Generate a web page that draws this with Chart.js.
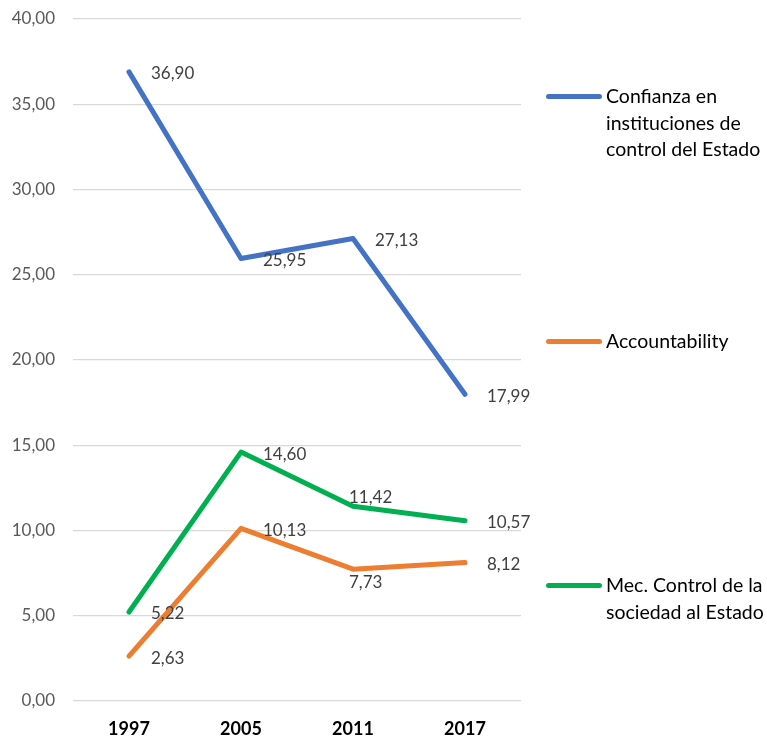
<!DOCTYPE html>
<html>
<head>
<meta charset="utf-8">
<script src="https://cdn.jsdelivr.net/npm/chart.js@4.4.1/dist/chart.umd.min.js"></script>
<style>
  html, body { margin: 0; padding: 0; background: #fff; }
  #wrap { position: relative; width: 767px; height: 740px; }
  #leyenda { position: absolute; left: 0; top: 0; font-family: Lato, sans-serif; font-size: 19.5px; color: #000; }
  .item { position: absolute; left: 546px; width: 221px; }
  .item .linea { position: absolute; left: 0; width: 56px; height: 5px; border-radius: 3px; }
  .item .texto { position: absolute; left: 60px; line-height: 26.5px; white-space: nowrap; }
</style>
</head>
<body>
<div id="wrap">
  <canvas id="grafico" width="767" height="740"></canvas>
  <div id="leyenda"></div>
</div>
<script>
const anos = ["1997", "2005", "2011", "2017"];
const confianza = [36.90, 25.95, 27.13, 17.99];
const accountability = [2.63, 10.13, 7.73, 8.12];
const mecControl = [5.22, 14.60, 11.42, 10.57];
const nomes = [
  ["Confianza en", "instituciones de", "control del Estado"],
  ["Accountability"],
  ["Mec. Control de la", "sociedad al Estado"]
];
const cores = ['#4472C4', '#ED7D31', '#00B050'];
// onde fica o rótulo de cada ponto: r = direita, a = acima, b = abaixo
const posRotulos = [
  ['r', 'r', 'r', 'r'],
  ['r', 'r', 'b', 'r'],
  ['r', 'r', 'a', 'r']
];
// topo de cada item da legenda (px)
const topoLegenda = [83, 328, 572];

function fmt(v) {
  return v.toFixed(2).replace('.', ',');
}

const rotulos = {
  id: 'rotulos',
  afterDatasetsDraw(chart) {
    const ctx = chart.ctx;
    ctx.save();
    ctx.font = '17px Lato, sans-serif';
    ctx.fillStyle = '#404040';
    ctx.textBaseline = 'middle';
    ctx.textAlign = 'left';
    chart.data.datasets.forEach(function (ds, i) {
      const meta = chart.getDatasetMeta(i);
      meta.data.forEach(function (el, j) {
        const p = posRotulos[i][j];
        let x = el.x + 22, y = el.y + 2;
        if (p === 'a') { x = el.x - 4; y = el.y - 9; }
        if (p === 'b') { x = el.x - 4; y = el.y + 13; }
        ctx.fillText(fmt(ds.data[j]), x, y);
      });
    });
    ctx.restore();
  }
};

const series = [confianza, accountability, mecControl];

new Chart(document.getElementById('grafico'), {
  type: 'line',
  data: {
    labels: anos,
    datasets: series.map(function (s, i) {
      return {
        label: nomes[i].join(' '),
        data: s,
        borderColor: cores[i],
        backgroundColor: cores[i],
        borderWidth: 5,
        borderCapStyle: 'round',
        borderJoinStyle: 'round',
        pointRadius: 0,
        tension: 0
      };
    })
  },
  options: {
    responsive: false,
    animation: false,
    layout: { padding: { top: 19, right: 246, bottom: 0, left: 0 } },
    plugins: {
      legend: { display: false },
      tooltip: { enabled: false }
    },
    scales: {
      x: {
        offset: true,
        grid: { display: false },
        border: { display: false },
        ticks: {
          color: '#000',
          font: { family: 'Lato, sans-serif', size: 18, weight: 'bold' },
          padding: 9
        },
        afterFit(axis) { axis.height = 39; }
      },
      y: {
        min: 0,
        max: 40,
        border: { display: false },
        grid: { color: '#D9D9D9', lineWidth: 1.3, drawTicks: true, tickLength: 18, tickColor: 'rgba(0,0,0,0)' },
        ticks: {
          stepSize: 5,
          color: '#595959',
          padding: 0,
          font: { family: 'Lato, sans-serif', size: 17 },
          callback: function (v) { return fmt(v); }
        },
        afterFit(axis) { axis.width = 73; }
      }
    }
  },
  plugins: [rotulos]
});

const leg = document.getElementById('leyenda');
nomes.forEach(function (linhas, i) {
  const item = document.createElement('div');
  item.className = 'item';
  item.style.top = topoLegenda[i] + 'px';
  const linha = document.createElement('div');
  linha.className = 'linea';
  linha.style.background = cores[i];
  linha.style.top = '11px';
  const txt = document.createElement('div');
  txt.className = 'texto';
  txt.innerHTML = linhas.join('<br>');
  item.appendChild(linha);
  item.appendChild(txt);
  leg.appendChild(item);
});
</script>
</body>
</html>
